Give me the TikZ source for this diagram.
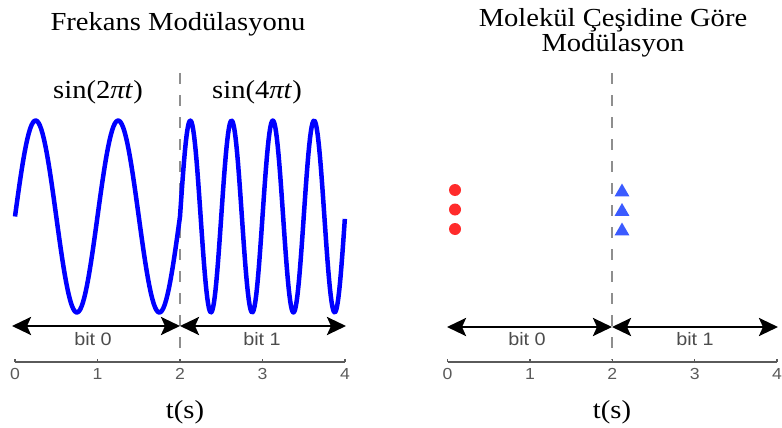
\documentclass[tikz,border=0pt]{standalone}
\usepackage{fontspec}
\setmainfont{Liberation Serif}
\newfontfamily\titlefont[FakeStretch=1.1]{Liberation Serif}
\newfontfamily\plotfont[FakeStretch=1.1]{Liberation Sans}
\usetikzlibrary{arrows.meta,shapes.geometric}
\definecolor{waveblue}{HTML}{0000FF}
\definecolor{dotred}{HTML}{FF2B2B}
\definecolor{triblue}{HTML}{3B5BFF}
\definecolor{axisgray}{HTML}{5A5A5A}
\definecolor{splitgray}{HTML}{8E8E8E}

\begin{document}
\begin{tikzpicture}[x=1pt,y=-1pt,
  title/.style={font=\titlefont\fontsize{26}{25}\selectfont,anchor=base,inner sep=0pt},
  bitlabel/.style={font=\plotfont\fontsize{18}{18}\selectfont,text=axisgray!85!black,anchor=base,inner sep=0pt},
  ticklabel/.style={font=\plotfont\fontsize{16}{16}\selectfont,text=axisgray,anchor=base,inner sep=0pt},
  bitarrow/.style={{Stealth[length=19pt,width=18pt,inset=4pt]}-{Stealth[length=19pt,width=18pt,inset=4pt]},line width=2.8pt},
  splitline/.style={splitgray,line width=1.8pt,dash pattern=on 11pt off 11pt},
  wave/.style={waveblue,line width=4.5pt,line join=round},
  axisline/.style={axisgray,line width=1.4pt},
  reddot/.style={circle,fill=dotred,inner sep=0pt,minimum size=12pt},
  bluetri/.style={regular polygon,regular polygon sides=3,fill=triblue,inner sep=0pt,minimum size=17pt}]
\useasboundingbox (0,0) rectangle (782,428);

% titles
\node[title](titleF) at (178,31){Frekans Modülasyonu};
\node[title](titleMa) at (613,27){Molekül Çeşidine Göre};
\node[title](titleMb) at (613,52){Modülasyon};

% left panel: frequency modulation
\coordinate (splitLtop) at (180,73);
\coordinate (splitLbot) at (180,360);
\draw[splitline] (splitLtop) -- (splitLbot);
\node[title](sinA) at (98,99){sin(2\textit{πt})};
\node[title](sinB) at (257,99){sin(4\textit{πt})};
\draw[wave] plot[domain=0:2,samples=120] ({15+82.5*\x},{216.5-96*sin(360*\x)})
  -- plot[domain=2:4,samples=200] ({15+82.5*\x},{216.5-96*sin(720*\x)});
\coordinate (arrL0) at (12,326);
\coordinate (arrL2) at (180,326);
\coordinate (arrL4) at (346,326);
\draw[bitarrow] (arrL0) -- (arrL2);
\draw[bitarrow] (arrL2) -- (arrL4);
\node[bitlabel](bitL0) at (93,345){bit 0};
\node[bitlabel](bitL1) at (262,345){bit 1};
\coordinate (axL0) at (15,362);
\coordinate (axL4) at (345,362);
\draw[axisline] (axL0) -- (axL4);
\foreach \t in {0,...,4}{
  \draw[axisline] ({15+82.5*\t},362) -- ++(0,-3);
  \node[ticklabel](tickL\t) at ({15+82.5*\t},379){\t};
}
\node[title](timeL) at (185,418){t(s)};

% right panel: molecule type modulation
\coordinate (splitRtop) at (612,73);
\coordinate (splitRbot) at (612,360);
\draw[splitline] (splitRtop) -- (splitRbot);
\foreach \y [count=\i] in {190,209.5,229}{
  \node[reddot](dot\i) at (455,\y){};
  \node[bluetri](tri\i) at (622,\y+2){};
}
\coordinate (arrR0) at (447,327);
\coordinate (arrR2) at (612,327);
\coordinate (arrR4) at (778,327);
\draw[bitarrow] (arrR0) -- (arrR2);
\draw[bitarrow] (arrR2) -- (arrR4);
\node[bitlabel](bitR0) at (527,345){bit 0};
\node[bitlabel](bitR1) at (695,345){bit 1};
\coordinate (axR0) at (447.5,362);
\coordinate (axR4) at (777,362);
\draw[axisline] (axR0) -- (axR4);
\foreach \t in {0,...,4}{
  \draw[axisline] ({447.5+82.4*\t},362) -- ++(0,-3);
  \node[ticklabel](tickR\t) at ({447.5+82.4*\t},379){\t};
}
\node[title](timeR) at (612,418){t(s)};
\end{tikzpicture}
\end{document}
